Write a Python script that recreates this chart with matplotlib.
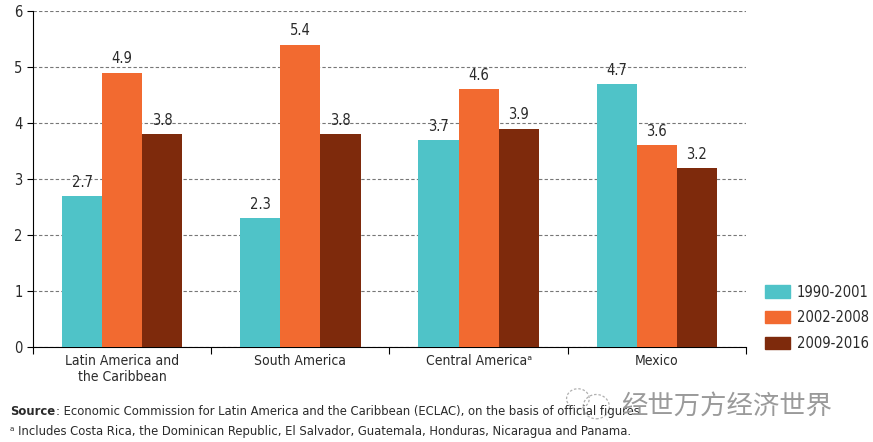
import numpy as np
import matplotlib
matplotlib.use("Agg")
import matplotlib.pyplot as plt
from matplotlib.patches import Patch, Ellipse

plt.rcParams['font.family'] = ['DejaVu Sans']
plt.rcParams['font.stretch'] = 'condensed'

regions = ["Latin America and\nthe Caribbean", "South America", "Central America\u1d43", "Mexico"]
periods = ["1990-2001", "2002-2008", "2009-2016"]
v_1990_2001 = [2.7, 2.3, 3.7, 4.7]
v_2002_2008 = [4.9, 5.4, 4.6, 3.6]
v_2009_2016 = [3.8, 3.8, 3.9, 3.2]
colors = ["#4fc3c8", "#f26a30", "#7e2a0c"]
txt = "#2a2a2a"

fig = plt.figure(figsize=(8.73, 4.42), dpi=100)
ax = fig.add_axes([0.0378, 0.215, 0.8167, 0.76])

x = np.arange(len(regions))
w = 0.225
series = [v_1990_2001, v_2002_2008, v_2009_2016]
for i, vals in enumerate(series):
    bars = ax.bar(x + (i - 1) * w, vals, width=w, color=colors[i], zorder=3)
    for b, v in zip(bars, vals):
        ax.text(b.get_x() + b.get_width() / 2, v + 0.11, f"{v:.1f}",
                ha="center", va="bottom", fontsize=10.5, color=txt)

ax.set_xlim(-0.5, len(regions) - 0.5)
ax.set_ylim(0, 6)
ax.set_yticks(range(7))
ax.yaxis.grid(True, linestyle=(0, (3, 2)), color="#777777", linewidth=0.8, zorder=0)
ax.set_xticks(np.arange(len(regions) + 1) - 0.5, minor=False)
ax.set_xticklabels([])
ax.set_xticks(x, minor=True)
ax.set_xticklabels(regions, minor=True, fontsize=10, color=txt)
ax.tick_params(axis="x", which="minor", length=0, pad=5)
ax.tick_params(axis="x", which="major", length=5, direction="out")
ax.tick_params(axis="y", length=4, labelsize=10.5, labelcolor=txt)
for s in ["top", "right"]:
    ax.spines[s].set_visible(False)

handles = [Patch(color=c, label=p) for c, p in zip(colors, periods)]
leg = fig.legend(handles=handles, loc="lower left", bbox_to_anchor=(0.876, 0.205),
                 frameon=False, fontsize=10.5, handlelength=1.7, handleheight=0.9,
                 labelspacing=0.75, borderpad=0, borderaxespad=0, handletextpad=0.5)
for t in leg.get_texts():
    t.set_color(txt)

src = fig.text(0.012, 0.06, "Source", fontsize=9.3, color=txt, weight="bold")
fig.canvas.draw()
bb = src.get_window_extent()
fig.text(bb.x1 / fig.bbox.width, 0.06,
         ": Economic Commission for Latin America and the Caribbean (ECLAC), on the basis of official figures.",
         fontsize=9.3, color=txt)
fig.text(0.012, 0.015, "\u1d43 Includes Costa Rica, the Dominican Republic, El Salvador, Guatemala, Honduras, Nicaragua and Panama.",
         fontsize=9.3, color=txt)

# watermark (wechat-like bubble + text)
fig.patches.append(Ellipse((0.662, 0.098), 0.026, 0.045, transform=fig.transFigure,
                           fill=False, edgecolor="#b0b0b0", lw=0.9, ls=(0, (2, 1.5))))
fig.patches.append(Ellipse((0.683, 0.080), 0.030, 0.055, transform=fig.transFigure,
                           fill=False, edgecolor="#b0b0b0", lw=0.9, ls=(0, (2, 1.5))))
fig.text(0.711, 0.065, "经世万方经济世界", fontsize=19, color="#9a9a9a",
         family=["Noto Sans CJK SC", "DejaVu Sans"])

fig.savefig("out.png", dpi=100)
